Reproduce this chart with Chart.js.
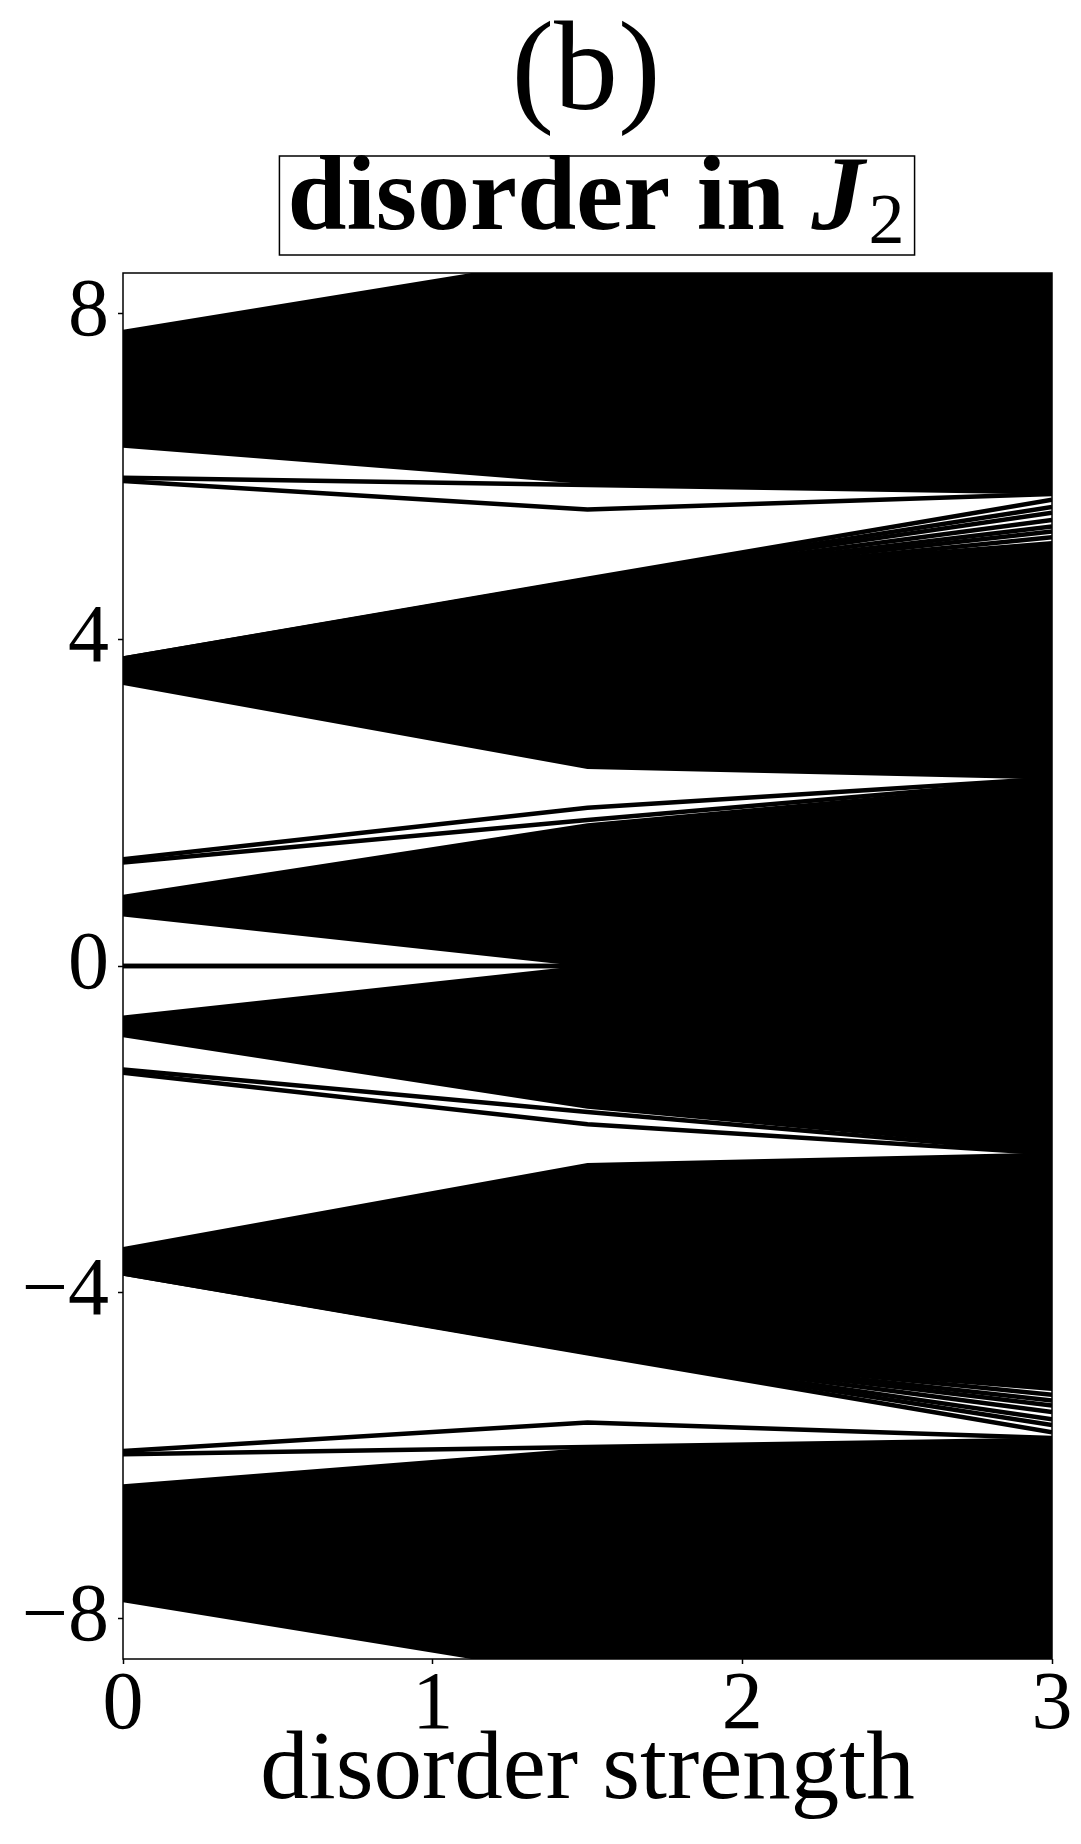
<!DOCTYPE html>
<html lang="en">
<head>
<meta charset="UTF-8">
<title>disorder in J2</title>
<script src="https://cdn.jsdelivr.net/npm/chart.js"></script>
<style>
  html, body { margin: 0; padding: 0; background: #fff; }
  canvas { display: block; }
</style>
</head>
<body>
<canvas id="spectrum" width="1081" height="1844"></canvas>
<script>
// disorder strengths at which the spectrum was computed
const strength = [0, 1.5, 3];
const xTicks = [0, 1, 2, 3];
const yTicks = [-8, -4, 0, 4, 8];

// upper / lower edge of each filled block of eigenvalues
const topBandUpper = [7.79, 8.72, 9.65];
const topBandLower = [6.37, 5.92, 5.81];
const upperBandUpper = [3.77, 4.74, 5.20];
const upperBandLower = [3.46, 2.43, 2.30];
const midUpperUpper = [0.86, 1.74, 2.26];
const midUpperLower = [0.62, 0.0, -2.00];
const midLowerUpper = [-0.62, 0.0, 2.00];
const midLowerLower = [-0.86, -1.74, -2.26];
const lowerBandUpper = [-3.46, -2.43, -2.30];
const lowerBandLower = [-3.77, -4.74, -5.20];
const bottomBandUpper = [-6.37, -5.92, -5.81];
const bottomBandLower = [-7.79, -8.72, -9.65];

// isolated levels in the gaps (edge states, zero modes)
const gapLevels = [
  [5.99, 5.90, 5.81], [5.95, 5.60, 5.79],
  [1.31, 1.94, 2.30], [1.27, 1.79, 2.28],
  [0, 0, 0], [0, 0, 0],
  [-1.27, -1.79, -2.28], [-1.31, -1.94, -2.30],
  [-5.95, -5.60, -5.79], [-5.99, -5.90, -5.81]
];

// levels that fan out of the +-4 bands at strong disorder
const upperFan = [
  [3.77, 4.75, 5.72], [3.77, 4.74, 5.63], [3.76, 4.73, 5.56], [3.76, 4.72, 5.47],
  [3.75, 4.71, 5.39], [3.75, 4.70, 5.33], [3.74, 4.69, 5.26]
];
const lowerFan = [
  [-3.77, -4.75, -5.72], [-3.77, -4.74, -5.63], [-3.76, -4.73, -5.56], [-3.76, -4.72, -5.47],
  [-3.75, -4.71, -5.39], [-3.75, -4.70, -5.33], [-3.74, -4.69, -5.26]
];

const bands = [
  [topBandUpper, topBandLower],
  [upperBandUpper, upperBandLower],
  [midUpperUpper, midUpperLower],
  [midLowerUpper, midLowerLower],
  [lowerBandUpper, lowerBandLower],
  [bottomBandUpper, bottomBandLower]
];

function points(vals) {
  return strength.map((x, i) => ({ x: x, y: vals[i] }));
}

const datasets = [];
bands.forEach(([hi, lo]) => {
  datasets.push({ data: points(hi), fill: '+1', backgroundColor: '#000', borderColor: '#000', borderWidth: 2 });
  datasets.push({ data: points(lo), fill: false, borderColor: '#000', borderWidth: 2 });
});
gapLevels.forEach(v => {
  datasets.push({ data: points(v), fill: false, borderColor: '#000', borderWidth: 4.5 });
});
upperFan.concat(lowerFan).forEach(v => {
  datasets.push({ data: points(v), fill: false, borderColor: '#000', borderWidth: 4.5 });
});

const serif = '"Liberation Serif", "DejaVu Serif", serif';

// box around the plot area (all four spines)
const frame = {
  id: 'frame',
  afterDatasetsDraw(chart) {
    const { ctx, chartArea: a } = chart;
    ctx.save();
    ctx.strokeStyle = '#000';
    ctx.lineWidth = 1.5;
    ctx.strokeRect(a.left, a.top, a.right - a.left, a.bottom - a.top);
    ctx.restore();
  }
};

// "(b)" and the boxed "disorder in J_2" heading
const headings = {
  id: 'headings',
  afterDraw(chart) {
    const ctx = chart.ctx;
    ctx.save();
    ctx.fillStyle = '#000';
    ctx.textBaseline = 'alphabetic';
    ctx.textAlign = 'center';
    ctx.font = '128px ' + serif;
    ctx.fillText('(b)', 586, 109);

    ctx.textAlign = 'left';
    const base = 229;
    ctx.font = 'bold 106px ' + serif;
    const head = 'disorder in ';
    const w1 = ctx.measureText(head).width;
    ctx.font = 'italic bold 106px ' + serif;
    const wJ = ctx.measureText('J').width;
    ctx.font = '72px ' + serif;
    const w2 = ctx.measureText('2').width;
    const total = w1 + wJ + 4 + w2;
    const x0 = 596 - total / 2;

    ctx.font = 'bold 106px ' + serif;
    ctx.fillText(head, x0, base);
    ctx.font = 'italic bold 106px ' + serif;
    ctx.fillText('J', x0 + w1, base);
    ctx.font = '72px ' + serif;
    ctx.fillText('2', x0 + w1 + wJ + 4, base + 14);

    ctx.strokeStyle = '#000';
    ctx.lineWidth = 1.5;
    ctx.strokeRect(x0 - 8, 156, total + 18, 99);
    ctx.restore();
  }
};

const ctx = document.getElementById('spectrum').getContext('2d');
new Chart(ctx, {
  type: 'line',
  data: { datasets: datasets },
  options: {
    responsive: false,
    animation: false,
    devicePixelRatio: 1,
    layout: { padding: { top: 273, right: 29, left: 0, bottom: 0 } },
    elements: { point: { radius: 0 }, line: { tension: 0 } },
    datasets: { line: { clip: 0 } },
    plugins: { legend: { display: false }, tooltip: { enabled: false } },
    scales: {
      x: {
        type: 'linear',
        min: 0,
        max: 3,
        afterBuildTicks: s => { s.ticks = xTicks.map(v => ({ value: v })); },
        afterFit: s => { s.height = 185; },
        grid: { drawOnChartArea: false, color: '#000', tickLength: 5, tickWidth: 1.5 },
        border: { display: false },
        ticks: { color: '#000', font: { family: serif, size: 82 }, padding: -7, maxRotation: 0 },
        title: {
          display: true,
          text: 'disorder strength',
          color: '#000',
          font: { family: serif, size: 97, lineHeight: 1.2 },
          padding: { top: 0, bottom: 13 }
        }
      },
      y: {
        type: 'linear',
        min: -8.5,
        max: 8.5,
        afterBuildTicks: s => { s.ticks = yTicks.map(v => ({ value: v })); },
        afterFit: s => { s.width = 123; },
        grid: { drawOnChartArea: false, color: '#000', tickLength: 5, tickWidth: 1.5 },
        border: { display: false },
        ticks: {
          color: '#000',
          font: { family: serif, size: 82 },
          padding: 9,
          callback: v => (v < 0 ? '\u2212' + Math.abs(v) : String(v))
        }
      }
    }
  },
  plugins: [frame, headings]
});
</script>
</body>
</html>
